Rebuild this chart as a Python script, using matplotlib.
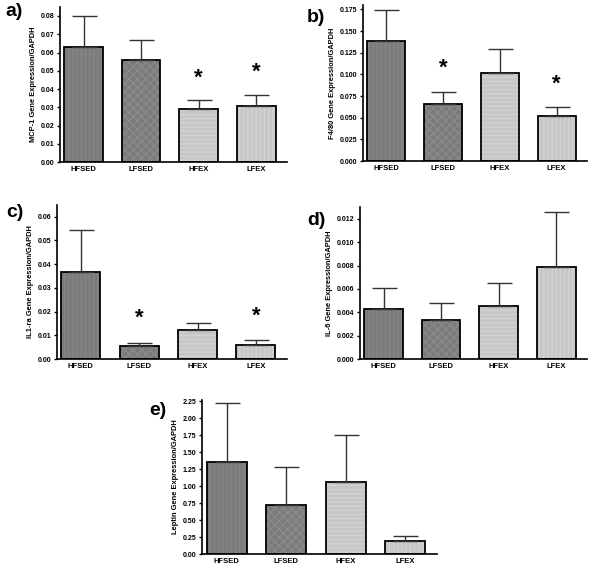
import matplotlib.pyplot as plt

plt.rcParams['font.family'] = ['Liberation Sans', 'DejaVu Sans']
plt.rcParams['font.weight'] = 'bold'

groups = ['HFSED', 'LFSED', 'HFEX', 'LFEX']

mcp1 = [0.063, 0.056, 0.029, 0.031]
mcp1_err = [0.017, 0.011, 0.005, 0.006]

f480 = [0.138, 0.066, 0.102, 0.052]
f480_err = [0.036, 0.014, 0.027, 0.010]

il1ra = [0.0365, 0.0053, 0.0124, 0.0060]
il1ra_err = [0.0180, 0.0015, 0.0029, 0.0019]

il6 = [0.0043, 0.0033, 0.0045, 0.0079]
il6_err = [0.0018, 0.0015, 0.0020, 0.0047]

leptin = [1.36, 0.73, 1.06, 0.20]
leptin_err = [0.86, 0.55, 0.69, 0.07]

fills = ['#7b7b7b', '#7b7b7b', '#c6c6c6', '#c6c6c6']
hatch_cols = ['#868686', '#8a8a8a', '#d2d2d2', '#d2d2d2']
hatches = ['||||', 'xxxx', '----', '||||']

panels = [
    # label, values, errors, ylabel, ylim, ticks, fmt, stars, rect, label pos
    ('a)', mcp1, mcp1_err, 'MCP-1 Gene Expression/GAPDH', 0.085,
     [0, 0.01, 0.02, 0.03, 0.04, 0.05, 0.06, 0.07, 0.08], '{:.2f}',
     [2, 3], 0.012, [0.100, 0.715, 0.378, 0.273], (0.023, 0.979)),
    ('b)', f480, f480_err, 'F4/80 Gene Expression/GAPDH', 0.18,
     [0, 0.025, 0.05, 0.075, 0.1, 0.125, 0.15, 0.175], '{:.3f}',
     [1, 3], 0.027, [0.605, 0.717, 0.373, 0.274], (0.527, 0.970)),
    ('c)', il1ra, il1ra_err, 'IL1-ra Gene Expression/GAPDH', 0.065,
     [0, 0.01, 0.02, 0.03, 0.04, 0.05, 0.06], '{:.2f}',
     [1, 3], 0.0103, [0.095, 0.369, 0.383, 0.271], (0.025, 0.626)),
    ('d)', il6, il6_err, 'IL-6 Gene Expression/GAPDH', 0.013,
     [0, 0.002, 0.004, 0.006, 0.008, 0.010, 0.012], '{:.3f}',
     [], 0, [0.600, 0.369, 0.378, 0.267], (0.527, 0.613)),
    ('e)', leptin, leptin_err, 'Leptin Gene Expression/GAPDH', 2.27,
     [0, 0.25, 0.5, 0.75, 1.0, 1.25, 1.5, 1.75, 2.0, 2.25], '{:.2f}',
     [], 0, [0.337, 0.026, 0.391, 0.271], (0.263, 0.278)),
]

fig = plt.figure(figsize=(6, 5.69), dpi=100)

for lab, vals, errs, ylab, ytop, ticks, fmt, stars, star_off, rect, lpos in panels:
    ax = fig.add_axes(rect)
    x = range(len(groups))
    # fill with faint pattern, then a plain black outline on top
    ax.bar(x, vals, width=0.67, color=fills, edgecolor=hatch_cols, hatch=hatches, linewidth=0)
    ax.bar(x, vals, width=0.67, color='none', edgecolor='black', linewidth=1.3)
    ax.errorbar(x, vals, yerr=[[0] * 4, errs], fmt='none', ecolor='#333333',
                elinewidth=1.0, capsize=9, capthick=1.0)
    for i in stars:
        ax.text(i, vals[i] + errs[i] + star_off, '*', ha='center', va='center',
                fontsize=16, fontweight='bold')
    ax.set_xlim(-0.41, 3.53)
    ax.set_ylim(0, ytop)
    ax.set_xticks(list(x))
    ax.set_xticklabels(groups, fontsize=5.5, fontweight='bold')
    ax.tick_params(axis='x', length=0, pad=3)
    ax.set_yticks(ticks)
    ax.set_yticklabels([fmt.format(t) for t in ticks], fontsize=5.0, fontweight='bold')
    ax.tick_params(axis='y', length=2.5, width=1, pad=1.5)
    ax.set_ylabel(ylab, fontsize=5.4, fontweight='bold', labelpad=3)
    for s in ['top', 'right']:
        ax.spines[s].set_visible(False)
    for s in ['left', 'bottom']:
        ax.spines[s].set_linewidth(1.2)
    fig.text(lpos[0], lpos[1], lab, fontsize=14, fontweight='bold', ha='center', va='center')

fig.savefig('out.png', dpi=100)
